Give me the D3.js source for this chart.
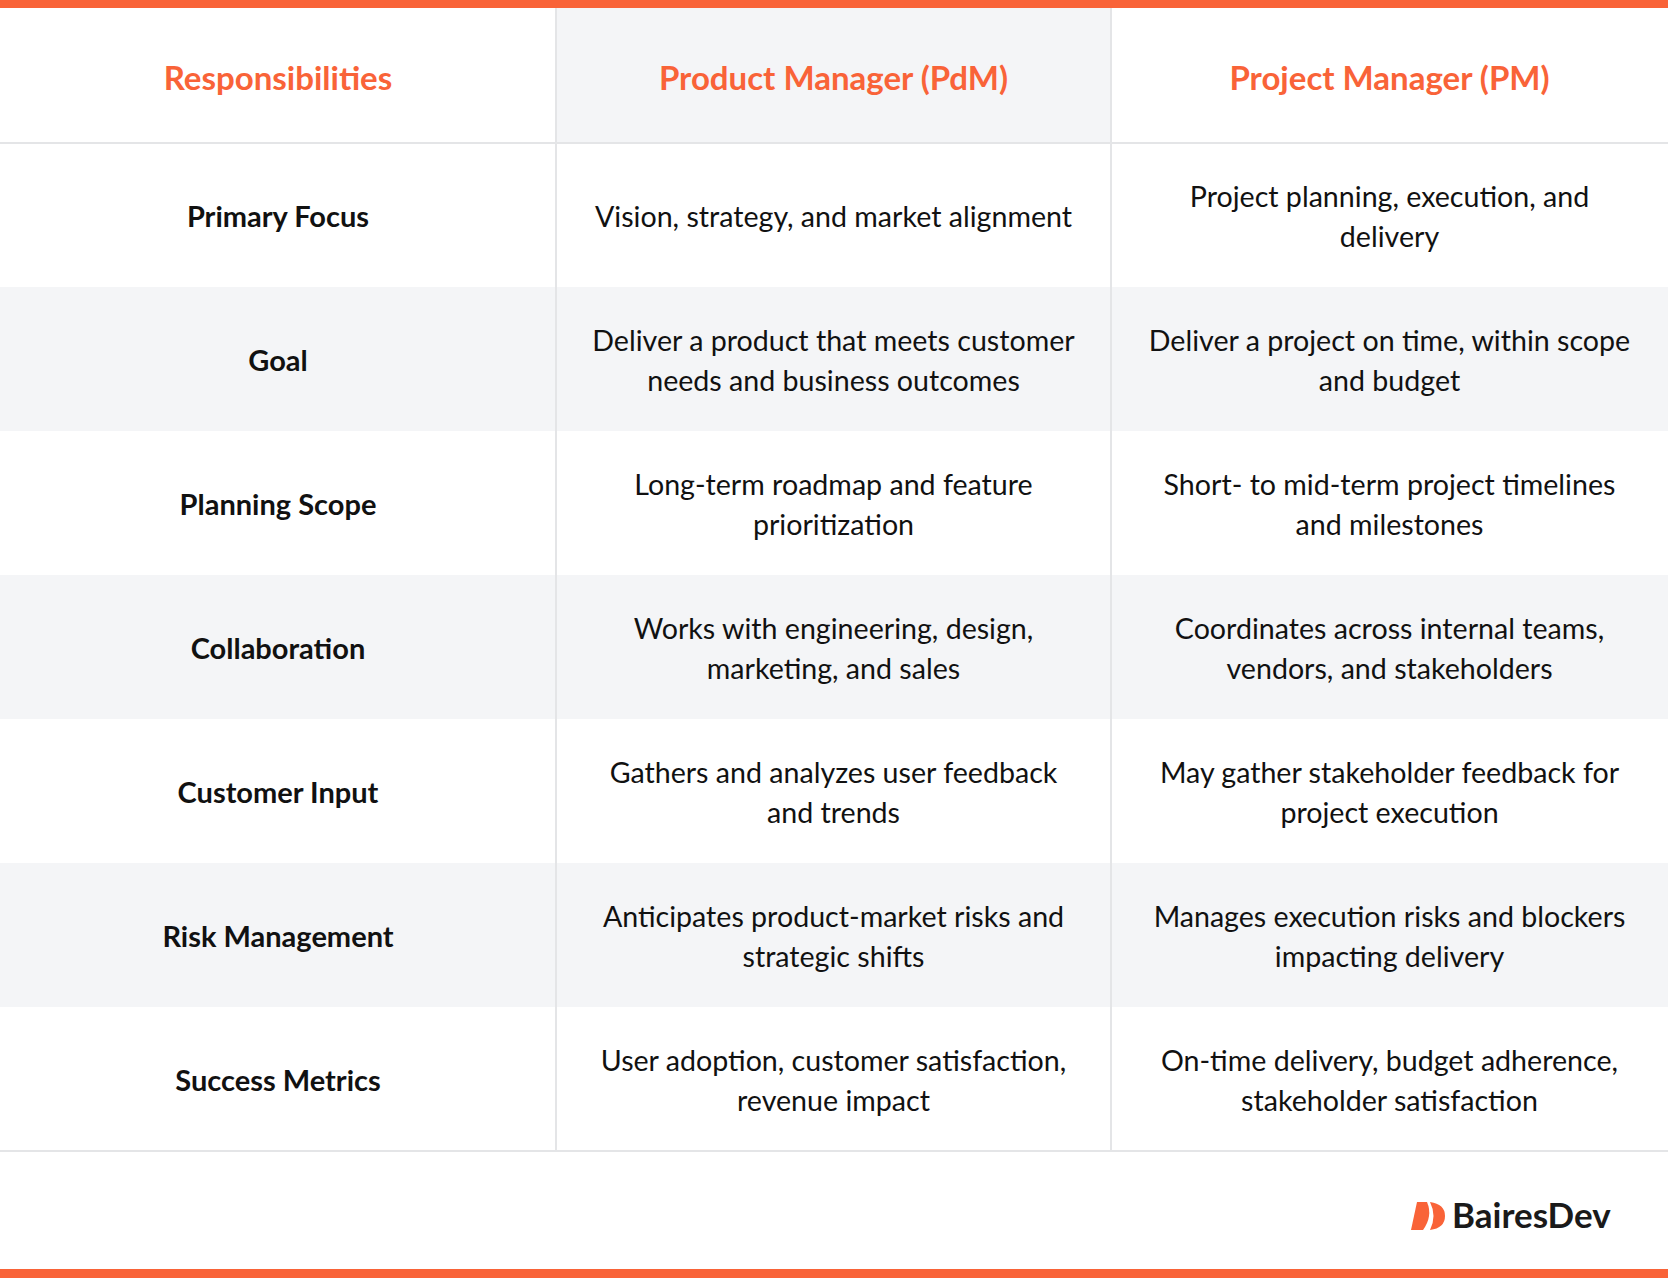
<!DOCTYPE html>
<html><head><meta charset="utf-8">
<script src="https://cdn.jsdelivr.net/npm/d3@7"></script>
<style>body{margin:0;background:#fff}</style></head>
<body><svg id="c" width="1668" height="1278"></svg>
<script>
const columns = ["Responsibilities", "Product Manager (PdM)", "Project Manager (PM)"];
const rowLabels = ["Primary Focus","Goal","Planning Scope","Collaboration","Customer Input","Risk Management","Success Metrics"];
const pdm = [
 ["Vision, strategy, and market alignment"],
 ["Deliver a product that meets customer","needs and business outcomes"],
 ["Long-term roadmap and feature","prioritization"],
 ["Works with engineering, design,","marketing, and sales"],
 ["Gathers and analyzes user feedback","and trends"],
 ["Anticipates product-market risks and","strategic shifts"],
 ["User adoption, customer satisfaction,","revenue impact"]];
const pm = [
 ["Project planning, execution, and","delivery"],
 ["Deliver a project on time, within scope","and budget"],
 ["Short- to mid-term project timelines","and milestones"],
 ["Coordinates across internal teams,","vendors, and stakeholders"],
 ["May gather stakeholder feedback for","project execution"],
 ["Manages execution risks and blockers","impacting delivery"],
 ["On-time delivery, budget adherence,","stakeholder satisfaction"]];

const svg = d3.select("#c");
const W=1668, orange="#f96338", gray="#f4f5f7", line="#e4e5e7";
const font="Lato, 'Open Sans', sans-serif";
const colX=[0,556,1111,W];
const y = d3.scaleBand().domain(rowLabels).range([143,1151]);
const headTop=8, headBot=143;

svg.append("rect").attr("x",colX[1]).attr("y",headTop).attr("width",colX[2]-colX[1]).attr("height",headBot-headTop).attr("fill",gray);
rowLabels.forEach((r,i)=>{ if(i%2==1) svg.append("rect").attr("x",0).attr("y",y(r)).attr("width",W).attr("height",y.bandwidth()).attr("fill",gray);});
[headBot,1151].forEach(v=>svg.append("line").attr("x1",0).attr("x2",W).attr("y1",v).attr("y2",v).attr("stroke",line).attr("stroke-width",2));
[colX[1],colX[2]].forEach(v=>svg.append("line").attr("x1",v).attr("x2",v).attr("y1",headTop).attr("y2",1151).attr("stroke",line).attr("stroke-width",2));
svg.append("rect").attr("x",0).attr("y",0).attr("width",W).attr("height",8).attr("fill",orange);
svg.append("rect").attr("x",0).attr("y",1269).attr("width",W).attr("height",9).attr("fill",orange);

const cx=i=>(colX[i]+colX[i+1])/2;
columns.forEach((c,i)=>svg.append("text").attr("x",cx(i)).attr("y",(headTop+headBot)/2+3).attr("dy","0.35em")
 .attr("text-anchor","middle").attr("font-family",font).attr("font-weight",700).attr("font-size",33).attr("fill",orange).text(c));

function cell(lines,i,r,bold){
 const mid=y(r)+y.bandwidth()/2+2, lh=40;
 lines.forEach((l,k)=>svg.append("text").attr("x",cx(i)).attr("y",mid+(k-(lines.length-1)/2)*lh).attr("dy","0.35em")
  .attr("text-anchor","middle").attr("font-family",font).attr("font-weight",bold?700:400).attr("font-size",bold?29:28.6).attr("fill","#111").text(l));
}
rowLabels.forEach((r,j)=>{cell([r],0,r,true);cell(pdm[j],1,r,false);cell(pm[j],2,r,false);});

const g=svg.append("g").attr("transform","translate(1413,1216)");
g.append("path").attr("d","M4,-14 L14,-14 Q20,0 10,14 L-2,14 Z").attr("fill",orange);
g.append("path").attr("d","M17,-14 Q32,-12 32,0 Q32,12 17,14 Q24,0 17,-14 Z").attr("fill",orange);
svg.append("text").attr("x",1452).attr("y",1216).attr("dy","0.35em").attr("font-family",font).attr("font-weight",700).attr("font-size",35).attr("fill","#1a1a1a").text("BairesDev");
</script></body></html>
